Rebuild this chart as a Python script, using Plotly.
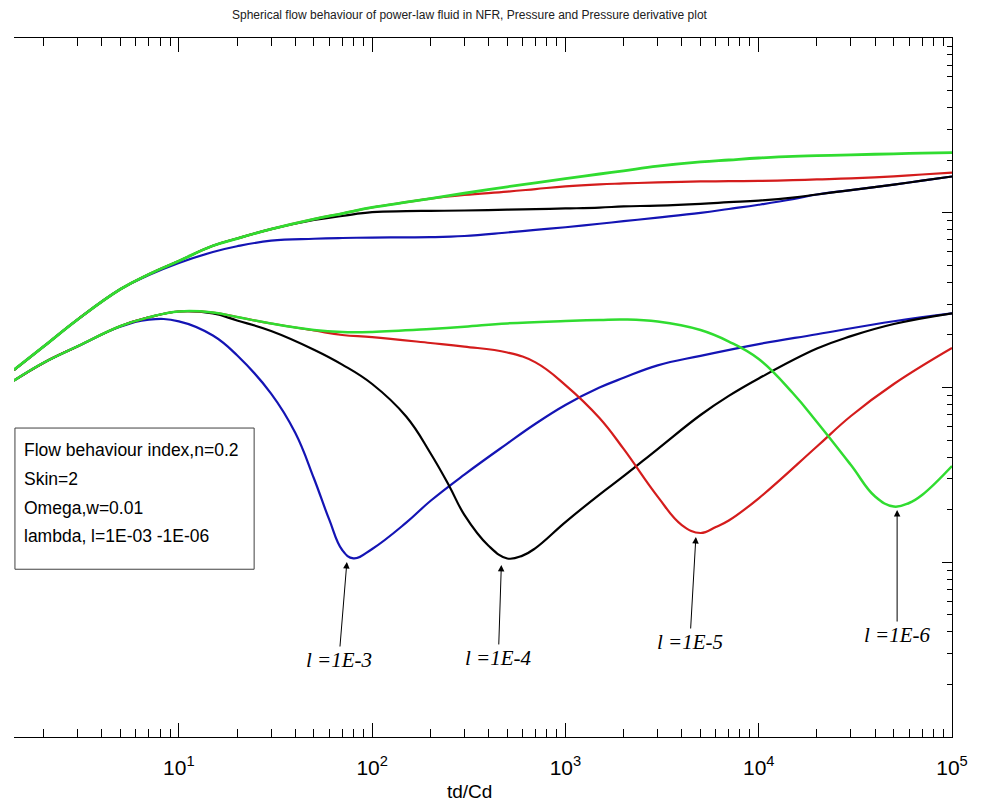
import math
import plotly.graph_objects as go

# ---------------- data ----------------
# dimensionless time td/Cd
t_p = [1.4, 2, 3, 5, 7, 10, 15, 20, 30, 50, 70, 100, 150, 200, 300, 500, 700, 1000,
       1500, 2000, 3000, 5000, 7000, 1e4, 1.5e4, 2e4, 3e4, 5e4, 7e4, 1e5]

# pressure curves (one per lambda)
p_l3 = [1.259, 1.717, 2.455, 3.66, 4.40, 5.16, 5.96, 6.43, 6.92, 7.10, 7.17, 7.21, 7.23, 7.25,
        7.36, 7.71, 7.97, 8.26, 8.65, 8.95, 9.38, 9.99, 10.51, 11.11, 11.94, 12.72, 13.48,
        14.49, 15.26, 16.13]
p_l4 = [1.259, 1.717, 2.455, 3.66, 4.45, 5.30, 6.47, 7.12, 8.06, 9.09, 9.58, 10.07, 10.21,
        10.25, 10.30, 10.41, 10.49, 10.58, 10.70, 10.87, 10.99, 11.25, 11.49, 11.74, 12.21,
        12.72, 13.48, 14.49, 15.26, 16.13]
p_l5 = [1.259, 1.717, 2.455, 3.66, 4.45, 5.30, 6.47, 7.12, 8.06, 9.20, 9.90, 10.72, 11.49,
        12.05, 12.64, 13.20, 13.66, 14.17, 14.55, 14.71, 14.92, 15.10, 15.16, 15.22, 15.36,
        15.52, 15.74, 16.17, 16.55, 16.97]
p_l6 = [1.259, 1.717, 2.455, 3.66, 4.45, 5.30, 6.47, 7.12, 8.06, 9.20, 9.90, 10.72, 11.49,
        12.05, 12.93, 14.08, 14.82, 15.66, 16.66, 17.38, 18.47, 19.54, 20.04, 20.57, 21.04,
        21.21, 21.46, 21.74, 21.92, 22.06]

# pressure derivative curves
t_d3 = [1.4, 2, 3, 5, 7, 10, 15, 20, 30, 40, 50, 60, 70, 80, 100, 150, 200, 300, 500, 700,
        1000, 1500, 2000, 3000, 5000, 1e4, 2e4, 5e4, 1e5]
d_l3 = [1.094, 1.387, 1.723, 2.234, 2.447, 2.392, 1.984, 1.529, 0.923, 0.5506, 0.3015,
        0.1752, 0.1175, 0.1053, 0.1191, 0.1684, 0.2241, 0.3174, 0.4775, 0.6199, 0.794,
        0.9986, 1.136, 1.338, 1.518, 1.772, 2.018, 2.395, 2.658]

t_d4 = [1.4, 2, 3, 5, 7, 10, 15, 20, 30, 50, 70, 100, 150, 200, 250, 300, 400, 500, 600, 700,
        1000, 1500, 2000, 3000, 5000, 7000, 1e4, 2e4, 3e4, 5e4, 1e5]
d_l4 = [1.094, 1.387, 1.723, 2.248, 2.521, 2.722, 2.651, 2.418, 2.105, 1.645, 1.352, 1.047,
        0.682, 0.4219, 0.2742, 0.1868, 0.1243, 0.1051, 0.1091, 0.1205, 0.1697, 0.2439,
        0.3108, 0.4446, 0.696, 0.895, 1.126, 1.670, 1.968, 2.309, 2.658]

t_d5 = [1.4, 2, 3, 5, 7, 10, 15, 20, 30, 50, 70, 100, 200, 300, 500, 700, 1000, 1500, 2000,
        3000, 4000, 5000, 6000, 7000, 1e4, 2e4, 3e4, 5e4, 1e5]
d_l5 = [1.094, 1.387, 1.723, 2.248, 2.521, 2.722, 2.686, 2.531, 2.324, 2.119, 1.997, 1.941,
        1.798, 1.714, 1.586, 1.392, 1.033, 0.669, 0.445, 0.2375, 0.1633, 0.1470, 0.1591,
        0.1733, 0.2323, 0.4596, 0.687, 1.047, 1.683]

t_d6 = [1.4, 2, 3, 5, 7, 10, 15, 20, 30, 50, 70, 100, 200, 300, 500, 1000, 1500, 2000, 3000,
        5000, 7000, 1e4, 1.5e4, 2e4, 3e4, 4e4, 5e4, 6e4, 7e4, 1e5]
d_l6 = [1.094, 1.387, 1.723, 2.248, 2.521, 2.722, 2.686, 2.531, 2.324, 2.133, 2.078, 2.081,
        2.161, 2.225, 2.327, 2.402, 2.434, 2.450, 2.386, 2.133, 1.833, 1.456, 0.930, 0.635,
        0.360, 0.2378, 0.2084, 0.2183, 0.2426, 0.3555]

# lambda labels and the derivative dips they point at
dip_labels = ["l =1E-3", "l =1E-4", "l =1E-5", "l =1E-6"]
dip_t = [74, 466, 4730, 52000]
dip_v = [0.1003, 0.0965, 0.1395, 0.199]

x_ticks = [10, 100, 1000, 1e4, 1e5]
x_ticktext = ["10<sup>1</sup>", "10<sup>2</sup>", "10<sup>3</sup>", "10<sup>4</sup>", "10<sup>5</sup>"]
y_ticks = [0.01, 0.1, 1, 10, 100]

info_lines = ["Flow behaviour index,n=0.2", "Skin=2", "Omega,w=0.01", "lambda, l=1E-03 -1E-06"]

# ---------------- styling ----------------
BLUE = "#1414b4"
BLACK = "#000000"
RED = "#d41c1c"
GREEN = "#30dc30"
SANS = "Liberation Sans, Arial, sans-serif"
SERIF = "Liberation Serif, Times New Roman, serif"

fig = go.Figure()

curves = [
    (t_p, p_l3, BLUE, 2.2), (t_p, p_l4, BLACK, 2.2), (t_p, p_l5, RED, 2.2),
    (t_d3, d_l3, BLUE, 2.2), (t_d4, d_l4, BLACK, 2.2), (t_d5, d_l5, RED, 2.2),
    (t_p, p_l6, GREEN, 2.8), (t_d6, d_l6, GREEN, 2.5),
]
for t, v, c, w in curves:
    fig.add_trace(go.Scatter(
        x=t, y=v, mode="lines",
        line=dict(color=c, width=w, shape="spline", smoothing=1.2),
        showlegend=False, hoverinfo="skip",
    ))

def minor_vals(lo_exp, hi_exp):
    return [m * 10 ** e for e in range(lo_exp, hi_exp) for m in range(2, 10)]

fig.update_xaxes(
    type="log", range=[0.147, 5.0],
    showline=True, linecolor="black", linewidth=1, mirror="allticks",
    ticks="inside", ticklen=14, tickwidth=1, tickcolor="black",
    tickmode="array", tickvals=x_ticks, ticktext=x_ticktext,
    tickfont=dict(family=SANS, size=21, color="black"), ticklabelstandoff=12,
    minor=dict(ticks="inside", ticklen=8, tickwidth=1, tickcolor="black",
               tickmode="array", tickvals=minor_vals(0, 5), showgrid=False),
    showgrid=False, zeroline=False,
)
fig.update_yaxes(
    type="log", range=[-2, 2], side="right",
    showline=True, linecolor="black", linewidth=1, mirror=False,
    ticks="inside", ticklen=10, tickwidth=1, tickcolor="black",
    tickmode="array", tickvals=y_ticks, showticklabels=False,
    minor=dict(ticks="inside", ticklen=5, tickwidth=1, tickcolor="black",
               tickmode="array", tickvals=minor_vals(-2, 2), showgrid=False),
    showgrid=False, zeroline=False,
)

annotations = [
    dict(text="Spherical flow behaviour of power-law fluid in NFR, Pressure and Pressure derivative plot",
         xref="paper", yref="paper", x=0.486, y=1.033, showarrow=False,
         xanchor="center", yanchor="middle", font=dict(family=SANS, size=12, color="#202020")),
    dict(text="td/Cd", xref="paper", yref="paper", x=0.486, y=-0.078, showarrow=False,
         xanchor="center", yanchor="middle", font=dict(family=SANS, size=19, color="black")),
]
# text block inside the parameter box, one line per entry
line_y = [0.411, 0.369, 0.327, 0.287]
for txt, yy in zip(info_lines, line_y):
    annotations.append(dict(text=txt, xref="paper", yref="paper", x=0.0085, y=yy,
                            showarrow=False, xanchor="left", yanchor="middle",
                            font=dict(family=SANS, size=17.5, color="black")))

offsets = [(-8, 98), (-3, 93), (-6, 105), (0, 125)]
for lab, t, v, (ax, ay) in zip(dip_labels, dip_t, dip_v, offsets):
    annotations.append(dict(
        text=lab, x=math.log10(t), y=math.log10(v),
        xref="x", yref="y", showarrow=True, ax=ax, ay=ay, axref="pixel", ayref="pixel",
        arrowhead=2, arrowsize=1.3, arrowwidth=1, arrowcolor="black", standoff=0,
        font=dict(family=SERIF, size=21, color="black", style="italic"),
    ))

fig.update_layout(
    width=983, height=807,
    margin=dict(l=14, r=31, t=38, b=70),
    paper_bgcolor="white", plot_bgcolor="white",
    annotations=annotations,
    shapes=[dict(type="rect", xref="paper", yref="paper", x0=0.001, x1=0.256, y0=0.240, y1=0.442,
                 line=dict(color="#404040", width=1), fillcolor="rgba(0,0,0,0)", layer="above")],
)

fig.write_html("out.html")
